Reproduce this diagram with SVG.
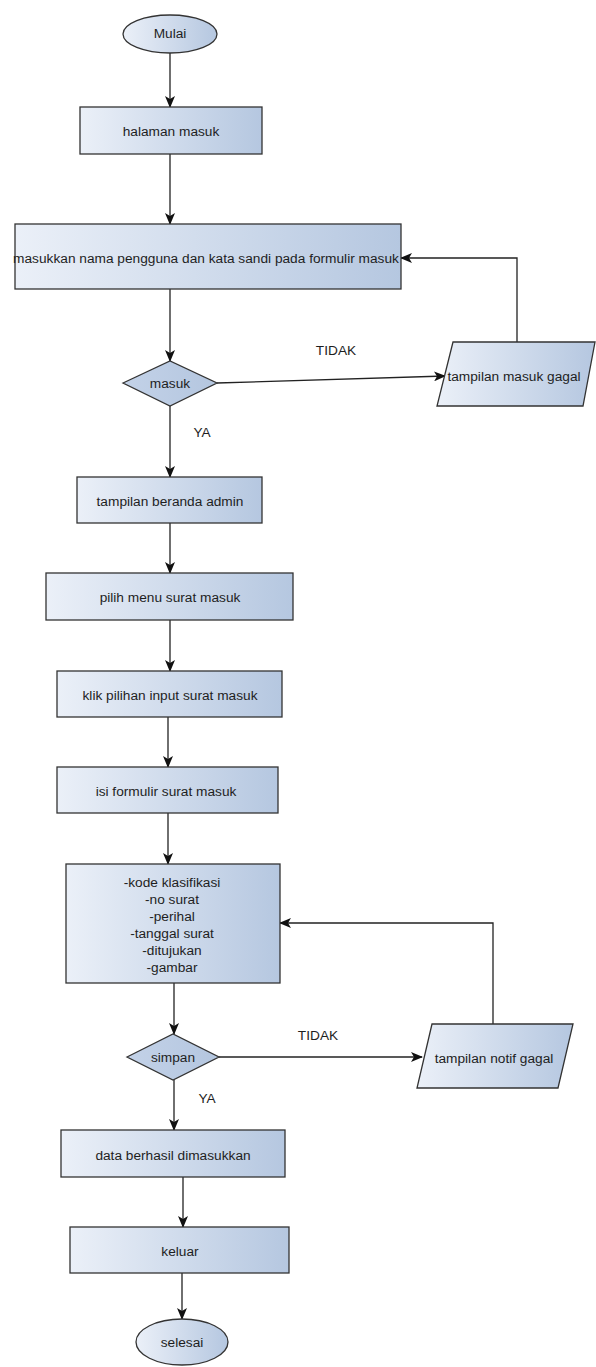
<svg xmlns="http://www.w3.org/2000/svg" width="596" height="1367" viewBox="0 0 596 1367">
<defs>
<linearGradient id="g" x1="0" y1="0" x2="1" y2="0">
<stop offset="0" stop-color="#ebf0f8"/>
<stop offset="1" stop-color="#b5c7e0"/>
</linearGradient>
<linearGradient id="gd" x1="0" y1="0" x2="1" y2="0">
<stop offset="0" stop-color="#c3d2e8"/>
<stop offset="1" stop-color="#b4c6df"/>
</linearGradient>
<marker id="arr" viewBox="0 0 12 10" refX="11" refY="5" markerWidth="12" markerHeight="10" markerUnits="userSpaceOnUse" orient="auto">
<path d="M0,0 L12,5 L0,10 L3,5 z" fill="#111"/>
</marker>
<style>
.n{fill:url(#g);stroke:#333;stroke-width:1.3}
.d{fill:url(#gd);stroke:#333;stroke-width:1.3}
.t{font-family:"Liberation Sans",Arial,sans-serif;font-size:13.7px;fill:#1e1e1e;text-anchor:middle;dominant-baseline:central}
.c{fill:none;stroke:#222;stroke-width:1.3;marker-end:url(#arr)}
</style>
</defs>
<rect width="596" height="1367" fill="#fff"/>
<g id="connectors">
<path class="c" d="M170,53 L170,107"/>
<path class="c" d="M170,154 L170,224"/>
<path class="c" d="M170,289 L170,361"/>
<path class="c" d="M217,383 L445,376"/>
<path class="c" d="M517,342 L517,258 L401,258"/>
<path class="c" d="M170,406 L170,477"/>
<path class="c" d="M170,523 L170,573"/>
<path class="c" d="M170,620 L170,671"/>
<path class="c" d="M168,717 L168,767"/>
<path class="c" d="M168,813 L168,864"/>
<path class="c" d="M174,983 L174,1034"/>
<path class="c" d="M219,1057 L422,1057"/>
<path class="c" d="M493,1024 L493,923 L280,923"/>
<path class="c" d="M174,1080 L174,1130"/>
<path class="c" d="M183,1177 L183,1227"/>
<path class="c" d="M182,1273 L182,1319"/>
<text class="t" x="336" y="350">TIDAK</text>
<text class="t" x="202" y="432">YA</text>
<text class="t" x="318" y="1035">TIDAK</text>
<text class="t" x="207" y="1098">YA</text>
</g>
<g id="mulai"><ellipse class="n" cx="170" cy="34" rx="47" ry="19"/><text class="t" x="170" y="33">Mulai</text></g>
<g id="halaman-masuk"><rect class="n" x="80" y="107" width="182" height="47"/><text class="t" x="171" y="131">halaman masuk</text></g>
<g id="masukkan"><rect class="n" x="15" y="224" width="386" height="65"/><text class="t" x="206" y="258">masukkan nama pengguna dan kata sandi pada formulir masuk</text></g>
<g id="masuk"><polygon class="d" points="123,383 170,361 217,383 170,406"/><text class="t" x="170" y="383">masuk</text></g>
<g id="tampilan-masuk-gagal"><polygon class="n" points="453,342 595,342 583,406 437,406"/><text class="t" x="514" y="376">tampilan masuk gagal</text></g>
<g id="beranda"><rect class="n" x="77" y="477" width="185" height="46"/><text class="t" x="170" y="501">tampilan beranda admin</text></g>
<g id="pilih-menu"><rect class="n" x="46" y="573" width="247" height="47"/><text class="t" x="170" y="597">pilih menu surat masuk</text></g>
<g id="klik-pilihan"><rect class="n" x="57" y="671" width="225" height="46"/><text class="t" x="170" y="695">klik pilihan input surat masuk</text></g>
<g id="isi-formulir"><rect class="n" x="57" y="767" width="221" height="46"/><text class="t" x="166" y="791">isi formulir surat masuk</text></g>
<g id="kode"><rect class="n" x="66" y="864" width="214" height="119"/>
<text class="t" x="172" y="882">-kode klasifikasi</text>
<text class="t" x="172" y="899">-no surat</text>
<text class="t" x="172" y="916">-perihal</text>
<text class="t" x="172" y="933">-tanggal surat</text>
<text class="t" x="172" y="950">-ditujukan</text>
<text class="t" x="172" y="967">-gambar</text></g>
<g id="simpan"><polygon class="d" points="127,1057 173,1034 219,1057 173,1080"/><text class="t" x="173" y="1057">simpan</text></g>
<g id="tampilan-notif-gagal"><polygon class="n" points="432,1024 573,1024 558,1088 417,1088"/><text class="t" x="494" y="1058">tampilan notif gagal</text></g>
<g id="data-berhasil"><rect class="n" x="61" y="1130" width="224" height="47"/><text class="t" x="173" y="1155">data berhasil dimasukkan</text></g>
<g id="keluar"><rect class="n" x="70" y="1227" width="219" height="46"/><text class="t" x="180" y="1251">keluar</text></g>
<g id="selesai"><ellipse class="n" cx="182" cy="1342" rx="46" ry="23"/><text class="t" x="182" y="1342">selesai</text></g>
</svg>
